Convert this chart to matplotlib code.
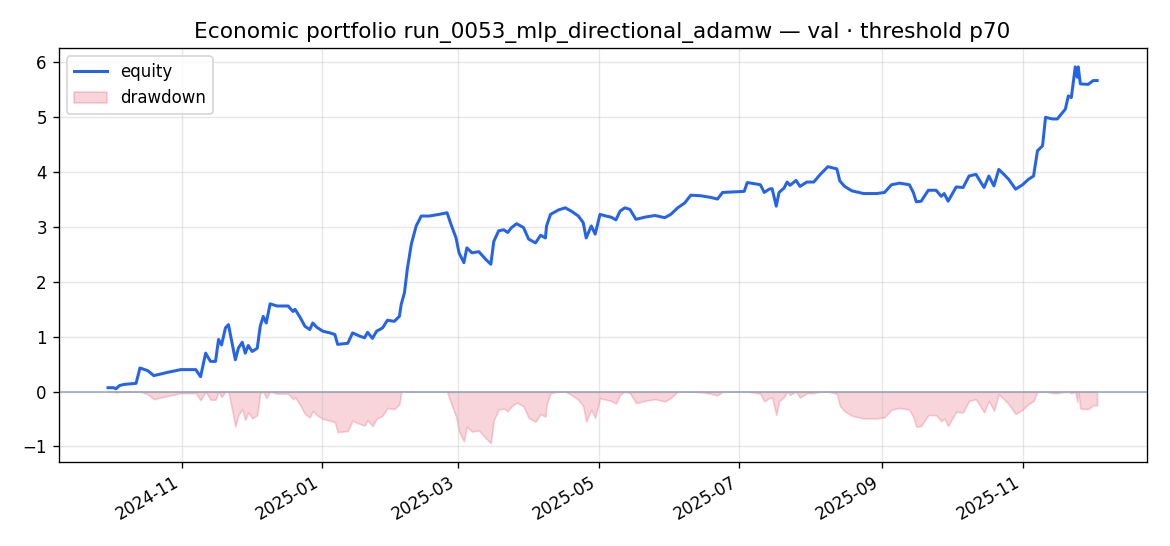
import matplotlib
matplotlib.use("Agg")
import matplotlib.pyplot as plt
import matplotlib.dates as mdates
import numpy as np
import pandas as pd

# days since 2024-09-30 and equity
start = "2024-09-30"
days = [
    0, 2.5, 3.5, 5.0, 7.0, 12.2, 13.9, 17.3, 19.9, 22.9, 25.9, 31.6, 38.1, 40.2, 42.4, 44.5,
    46.7, 48.0, 49.3, 51.0, 52.3, 54.0, 55.3, 56.6, 58.3, 59.6, 60.9, 62.6, 64.8,
    66.1, 67.4, 68.7, 70.4, 73.4, 78.2, 80.3, 81.2, 83.3, 85.5, 87.6, 88.9, 90.7,
    93.3, 96.3, 98.5, 99.7, 104.1, 106.2, 109.3, 111.4, 112.7, 114.8, 116.6, 119.2,
    121.3, 124.3, 126.5, 127.3, 128.7, 130.0, 131.7, 133.8, 136.0, 139.4, 143.7,
    147.2, 148.9, 151.1, 152.4, 154.5, 155.8, 158.0, 161.0, 164.0, 166.2, 167.5,
    169.6, 171.8, 173.5, 175.2, 177.4, 180.4, 182.6, 185.6, 187.8, 189.9, 190.4,
    192.1, 195.5, 198.5, 201.1, 204.2, 206.3, 207.6, 209.8, 211.5, 213.6, 216.2,
    218.4, 220.5, 222.3, 224.4, 226.6, 227.9, 229.2, 233.1, 237.4, 241.7, 244.3,
    247.3, 250.4, 253.0, 257.3, 261.6, 264.6, 266.8, 271.9, 276.2, 277.5, 280.6,
    283.2, 284.9, 287.0, 288.3, 290.1, 291.3, 293.5, 294.8, 296.1, 298.7, 300.4,
    303.4, 306.4, 309.0, 312.5, 316.4, 317.7, 319.8, 322.9, 328.0, 333.7, 337.1,
    340.1, 343.6, 347.9, 349.6, 350.9, 353.0, 356.1, 359.5, 361.7, 363.0, 364.7,
    368.2, 371.2, 373.8, 376.8, 380.3, 382.4, 384.6, 386.7, 388.9, 391.0, 394.0,
    397.0, 399.6, 401.8, 403.5, 405.7, 407.0, 410.0, 412.1, 415.6, 416.9, 418.2,
    419.9, 420.8, 421.2, 422.1, 425.5, 427.7, 429.4,
]
equity = [
    0.07, 0.07, 0.05, 0.11, 0.13, 0.15, 0.43, 0.38, 0.29, 0.32, 0.35, 0.40, 0.40, 0.27, 0.70, 0.55,
    0.55, 0.95, 0.85, 1.16, 1.22, 0.86, 0.58, 0.79, 0.90, 0.70, 0.84, 0.73, 0.79,
    1.19, 1.37, 1.25, 1.60, 1.56, 1.56, 1.46, 1.50, 1.36, 1.19, 1.13, 1.25, 1.17,
    1.10, 1.07, 1.04, 0.86, 0.88, 1.07, 1.01, 0.98, 1.08, 0.97, 1.10, 1.16,
    1.30, 1.28, 1.37, 1.59, 1.80, 2.25, 2.69, 3.02, 3.20, 3.20, 3.23,
    3.26, 3.05, 2.80, 2.53, 2.35, 2.62, 2.53, 2.55, 2.41, 2.32, 2.74,
    2.93, 2.95, 2.90, 2.99, 3.06, 2.99, 2.78, 2.71, 2.85, 2.80, 3.02,
    3.23, 3.31, 3.35, 3.29, 3.20, 3.08, 2.80, 3.02, 2.87, 3.23, 3.20,
    3.18, 3.13, 3.29, 3.35, 3.32, 3.23, 3.14, 3.18, 3.21, 3.17, 3.23,
    3.35, 3.44, 3.58, 3.57, 3.54, 3.51, 3.63, 3.64, 3.65, 3.81, 3.79,
    3.77, 3.63, 3.69, 3.70, 3.38, 3.63, 3.71, 3.82, 3.76, 3.85, 3.74,
    3.82, 3.82, 3.95, 4.10, 4.06, 3.84, 3.74, 3.66, 3.61, 3.61, 3.63,
    3.77, 3.80, 3.77, 3.63, 3.46, 3.47, 3.67, 3.67, 3.56, 3.61, 3.47,
    3.73, 3.72, 3.93, 3.96, 3.72, 3.93, 3.75, 4.05, 3.96, 3.87, 3.69,
    3.77, 3.87, 3.93, 4.39, 4.48, 5.00, 4.97, 4.97, 5.15, 5.39, 5.36,
    5.92, 5.73, 5.92, 5.61, 5.60, 5.67, 5.67,
]
title = "Economic portfolio run_0053_mlp_directional_adamw — val · threshold p70"

dates = pd.Timestamp(start) + pd.to_timedelta(days, unit="D")
eq = np.array(equity)
dd = eq - np.maximum.accumulate(eq)

fig, ax = plt.subplots(figsize=(9.75, 4.55), dpi=120)
ax.plot(dates, eq, color="#2563eb", lw=1.8, label="equity")
ax.fill_between(dates, dd, 0, color="crimson", alpha=0.18, label="drawdown")
ax.axhline(0, color="#94a3b8", lw=0.9)
ax.set_title(title, fontsize=13)
ax.grid(alpha=0.3)
ax.legend(loc="upper left")
ax.xaxis.set_major_locator(mdates.MonthLocator(bymonth=[1, 3, 5, 7, 9, 11]))
ax.xaxis.set_major_formatter(mdates.DateFormatter("%Y-%m"))
fig.autofmt_xdate()
fig.subplots_adjust(left=0.05, right=0.98, top=0.912, bottom=0.154)
fig.savefig("out.png", dpi=120)
